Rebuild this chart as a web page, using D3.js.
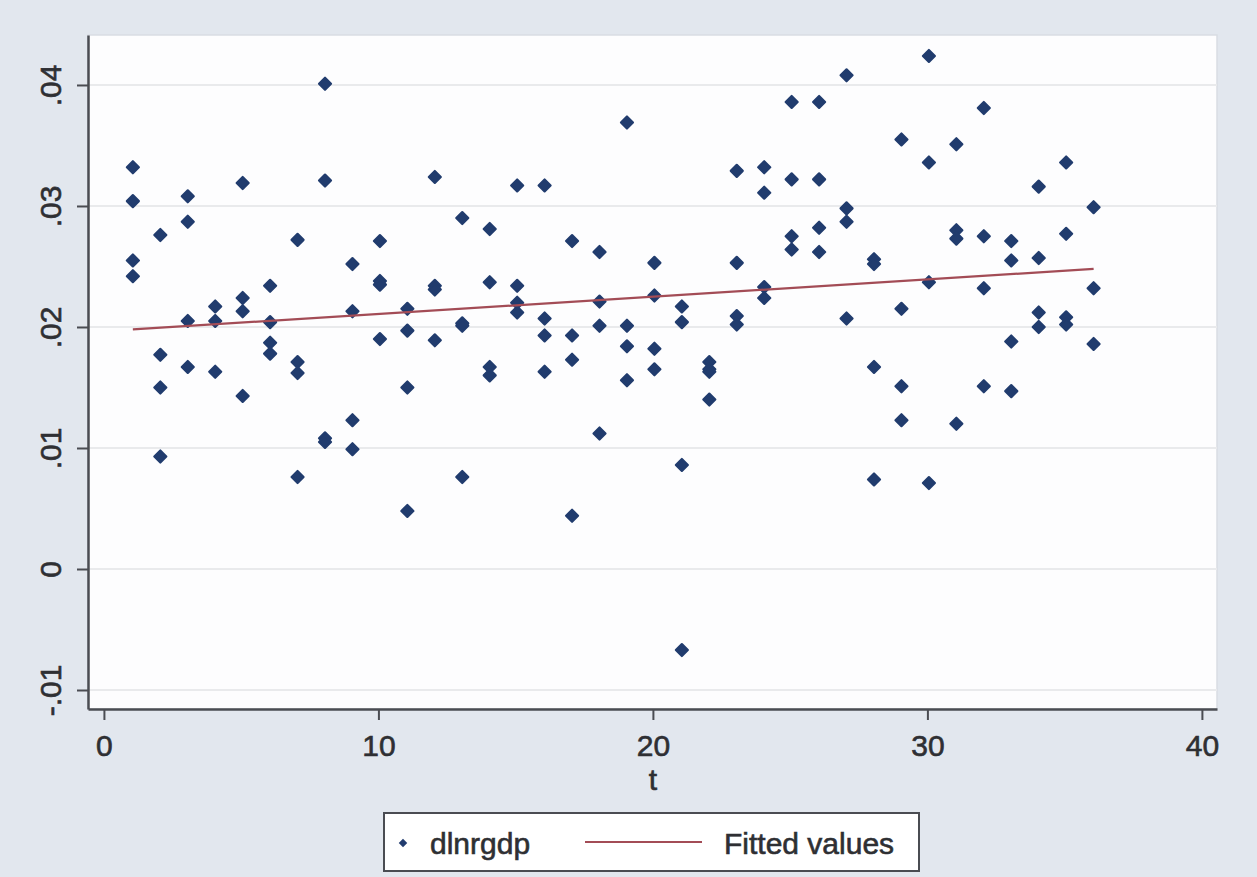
<!DOCTYPE html>
<html>
<head>
<meta charset="utf-8">
<script src="https://cdn.jsdelivr.net/npm/d3@7"></script>
<style>
  html, body { margin: 0; padding: 0; background: #e2e7ee; }
  svg { display: block; font-family: "Liberation Sans", Arial, sans-serif; }
</style>
</head>
<body>
<div id="chart"></div>
<script>
const tValues = [
  1, 1, 1, 1,   2, 2, 2, 2,   3, 3, 3, 3,   4, 4, 4,
  5, 5, 5, 5,   6, 6, 6, 6,   7, 7, 7, 7,   8, 8, 8, 8,
  9, 9, 9, 9,   10, 10, 10, 10,   11, 11, 11, 11,   12, 12, 12, 12,
  13, 13, 13, 13,   14, 14, 14, 14,   15, 15, 15, 15,   16, 16, 16, 16,
  17, 17, 17, 17,   18, 18, 18, 18,   19, 19, 19, 19,   20, 20, 20, 20,
  21, 21, 21, 21,   22, 22, 22, 22,   23, 23, 23, 23,   24, 24, 24, 24,
  25, 25, 25, 25,   26, 26, 26, 26,   27, 27, 27, 27,   28, 28, 28, 28,
  29, 29, 29, 29,   30, 30, 30, 30,   31, 31, 31, 31,   32, 32, 32, 32,
  33, 33, 33, 33,   34, 34, 34, 34,   35, 35, 35, 35,   36, 36, 36
]
const dlnrgdp = [
  0.0332, 0.0304, 0.0255, 0.0242,   0.0276, 0.0177, 0.0150, 0.0093,
  0.0308, 0.0287, 0.0205, 0.0167,   0.0217, 0.0205, 0.0163,
  0.0319, 0.0224, 0.0213, 0.0143,   0.0234, 0.0204, 0.0187, 0.0178,
  0.0272, 0.0171, 0.0162, 0.0076,   0.0401, 0.0321, 0.0108, 0.0105,
  0.0252, 0.0213, 0.0123, 0.0099,   0.0271, 0.0238, 0.0235, 0.0190,
  0.0215, 0.0197, 0.0150, 0.0048,   0.0324, 0.0234, 0.0231, 0.0189,
  0.0290, 0.0203, 0.0201, 0.0076,   0.0281, 0.0237, 0.0167, 0.0160,
  0.0317, 0.0234, 0.0220, 0.0212,   0.0317, 0.0207, 0.0193, 0.0163,
  0.0271, 0.0193, 0.0173, 0.0044,   0.0262, 0.0221, 0.0201, 0.0112,
  0.0369, 0.0201, 0.0184, 0.0156,   0.0253, 0.0226, 0.0182, 0.0165,
  0.0217, 0.0204, 0.0086, -0.0067,  0.0171, 0.0165, 0.0163, 0.0140,
  0.0329, 0.0253, 0.0209, 0.0202,   0.0332, 0.0311, 0.0233, 0.0224,
  0.0386, 0.0322, 0.0275, 0.0264,   0.0386, 0.0322, 0.0282, 0.0262,
  0.0408, 0.0298, 0.0287, 0.0207,   0.0256, 0.0252, 0.0167, 0.0074,
  0.0355, 0.0215, 0.0151, 0.0123,   0.0424, 0.0336, 0.0237, 0.0071,
  0.0351, 0.0280, 0.0273, 0.0120,   0.0381, 0.0275, 0.0232, 0.0151,
  0.0271, 0.0255, 0.0188, 0.0147,   0.0316, 0.0257, 0.0212, 0.0200,
  0.0336, 0.0277, 0.0208, 0.0202,   0.0299, 0.0232, 0.0186
]

// fitted values at the ends of the regression line
const fittedT = [1, 36]
const fittedV = [0.0198, 0.0248]

const xTicks = [0, 10, 20, 30, 40]
const yTicks = [-0.01, 0, 0.01, 0.02, 0.03, 0.04]
const yTickLabels = ["-.01", "0", ".01", ".02", ".03", ".04"]

const width = 1257
const height = 877
const plot = { left: 88, right: 1217, top: 35, bottom: 709 }

const pointColor = "#213c6e"
const fitColor = "#a34c56"
const axisColor = "#4a4c52"
const textColor = "#2e2f33"

const svg = d3.select("#chart").append("svg")
    .attr("width", width)
    .attr("height", height)

svg.append("rect")
    .attr("width", width)
    .attr("height", height)
    .attr("fill", "#e2e7ee")

const x = d3.scaleLinear().domain([-0.58, 40.55]).range([plot.left, plot.right])
const y = d3.scaleLinear().domain([-0.01157, 0.04413]).range([plot.bottom, plot.top])

// plot region
svg.append("rect")
    .attr("x", plot.left)
    .attr("y", plot.top)
    .attr("width", plot.right - plot.left)
    .attr("height", plot.bottom - plot.top)
    .attr("fill", "#fdfdfe")
    .attr("stroke", "#d9dde3")
    .attr("stroke-width", 1.5)

// horizontal grid
svg.append("g")
  .selectAll("line")
  .data(yTicks)
  .enter().append("line")
    .attr("x1", plot.left)
    .attr("x2", plot.right)
    .attr("y1", function(d) { return y(d) })
    .attr("y2", function(d) { return y(d) })
    .attr("stroke", "#e9eaec")
    .attr("stroke-width", 2)

// y axis
const yAxis = svg.append("g")
    .attr("transform", "translate(" + plot.left + ",0)")
    .call(d3.axisLeft(y)
      .tickValues(yTicks)
      .tickSize(11)
      .tickSizeOuter(0)
      .tickPadding(16)
      .tickFormat(function(d, i) { return yTickLabels[i] }))
yAxis.select(".domain").attr("stroke", axisColor).attr("stroke-width", 2.5)
yAxis.selectAll(".tick line").attr("stroke", axisColor).attr("stroke-width", 2)
yAxis.selectAll(".tick text")
    .attr("fill", textColor)
    .attr("stroke", textColor)
    .attr("stroke-width", 0.6)
    .attr("font-size", 30)
    .attr("text-anchor", "middle")
    .attr("x", null)
    .attr("dy", null)
    .attr("transform", "translate(-27,0) rotate(-90)")

// x axis
const xAxis = svg.append("g")
    .attr("transform", "translate(0," + plot.bottom + ")")
    .call(d3.axisBottom(x)
      .tickValues(xTicks)
      .tickSize(11)
      .tickSizeOuter(0)
      .tickPadding(15)
      .tickFormat(d3.format("d")))
xAxis.select(".domain").attr("stroke", axisColor).attr("stroke-width", 2.5)
xAxis.selectAll(".tick line").attr("stroke", axisColor).attr("stroke-width", 2)
xAxis.selectAll(".tick text")
    .attr("fill", textColor)
    .attr("stroke", textColor)
    .attr("stroke-width", 0.6)
    .attr("font-size", 30)

svg.append("text")
    .attr("x", 653)
    .attr("y", 790)
    .attr("text-anchor", "middle")
    .attr("font-size", 30)
    .attr("fill", textColor)
    .attr("stroke", textColor)
    .attr("stroke-width", 0.6)
    .text("t")

// scatter points
const diamond = d3.symbol().type(d3.symbolSquare).size(72)
svg.append("g")
  .selectAll("path")
  .data(dlnrgdp)
  .enter().append("path")
    .attr("d", diamond)
    .attr("transform", function(d, i) {
      return "translate(" + (x(tValues[i]) + 1.5) + "," + y(d) + ") rotate(45)"
    })
    .attr("fill", pointColor)
    .attr("stroke", pointColor)
    .attr("stroke-width", 2.2)
    .attr("stroke-linejoin", "round")

// fitted line
svg.append("path")
    .datum(fittedT.map(function(t, i) { return [t, fittedV[i]] }))
    .attr("d", d3.line()
      .x(function(d) { return x(d[0]) + 1.5 })
      .y(function(d) { return y(d[1]) }))
    .attr("fill", "none")
    .attr("stroke", fitColor)
    .attr("stroke-width", 2.2)

// legend
const legend = svg.append("g")
legend.append("rect")
    .attr("x", 384)
    .attr("y", 813)
    .attr("width", 535)
    .attr("height", 58)
    .attr("fill", "#ffffff")
    .attr("stroke", axisColor)
    .attr("stroke-width", 2)
legend.append("path")
    .attr("d", d3.symbol().type(d3.symbolSquare).size(36))
    .attr("transform", "translate(403,843) rotate(45)")
    .attr("fill", pointColor)
legend.selectAll("text")
  .data(["dlnrgdp", "Fitted values"])
  .enter().append("text")
    .attr("x", function(d, i) { return i === 0 ? 430 : 724 })
    .attr("y", 854)
    .attr("font-size", 30)
    .attr("fill", textColor)
    .attr("stroke", textColor)
    .attr("stroke-width", 0.6)
    .text(function(d) { return d })
legend.append("line")
    .attr("x1", 585)
    .attr("x2", 702)
    .attr("y1", 842)
    .attr("y2", 842)
    .attr("stroke", fitColor)
    .attr("stroke-width", 2)
</script>
</body>
</html>
